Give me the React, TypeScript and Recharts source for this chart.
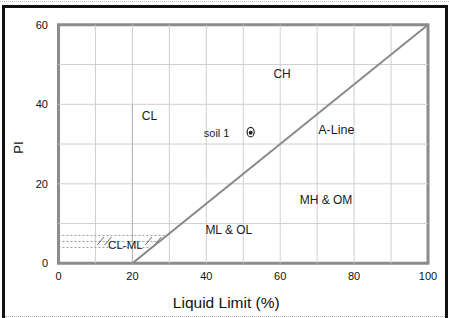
import React from 'react';
import {
  ScatterChart,
  Scatter,
  XAxis,
  YAxis,
  ReferenceLine,
  ReferenceArea,
  Label,
} from 'recharts';

// Axis ticks
const xTicks = [0, 20, 40, 60, 80, 100];
const yTicks = [0, 20, 40, 60];
// Grid lines
const gridLL = [10, 20, 30, 40, 50, 60, 70, 80, 90];
const gridPI = [10, 20, 30, 40, 50];

// A-Line (LL, PI)
const aLine = [
  { ll: 20, pi: 0 },
  { ll: 100, pi: 60 },
];

// Soil sample
const soils = [{ ll: 52, pi: 33, name: 'soil 1' }];

// Zone labels
const zoneLabels = [
  { ll: 24.6, pi: 37.1, text: 'CL', size: 12 },
  { ll: 60.5, pi: 47.6, text: 'CH', size: 12 },
  { ll: 42.8, pi: 32.8, text: 'soil 1', size: 11 },
  { ll: 75.2, pi: 33.5, text: 'A-Line', size: 12.5 },
  { ll: 72.4, pi: 16, text: 'MH & OM', size: 12 },
  { ll: 46.1, pi: 8.5, text: 'ML & OL', size: 12 },
  { ll: 18.1, pi: 4.6, text: 'CL-ML', size: 11.5 },
];

// CL-ML band boundaries (PI level, LL end)
const bandLines = [
  { pi: 7, llEnd: 29.3 },
  { pi: 5.5, llEnd: 27.3 },
  { pi: 4, llEnd: 25.3 },
];
// hatch marks in CL-ML band (LL start)
const hatchLL = [10.5, 12.5, 23.5, 26];

const FONT = '"Liberation Sans", Arial, sans-serif';

const TextShape = (props: any) => {
  const { cx, cy, payload } = props;
  return (
    <text
      x={cx}
      y={cy}
      textAnchor="middle"
      dominantBaseline="central"
      fontFamily={FONT}
      fontSize={payload.size}
      fill="#1a1a1a"
    >
      {payload.text}
    </text>
  );
};

const SoilShape = (props: any) => {
  const { cx, cy } = props;
  return (
    <g>
      <ellipse cx={cx} cy={cy} rx={3.5} ry={4.8} fill="#fff" stroke="#222" strokeWidth={1.2} />
      <circle cx={cx} cy={cy + 0.5} r={2} fill="#222" />
    </g>
  );
};

const Empty = () => <g />;

export default function App() {
  return (
    <div
      style={{
        position: 'absolute',
        left: 0,
        top: 0,
        width: 449,
        height: 318,
        background: '#fff',
        overflow: 'hidden',
      }}
    >
      {/* outer frame */}
      <div
        style={{
          position: 'absolute',
          left: 0,
          top: 1,
          width: 449,
          height: 0,
          borderTop: '1px dotted #bbb',
        }}
      />
      <div
        style={{
          position: 'absolute',
          left: 2,
          top: 5,
          width: 440,
          height: 330,
          borderLeft: '3px solid #111',
          borderTop: '3px solid #111',
          borderRight: '3px solid #111',
        }}
      />
      <div
        style={{
          position: 'absolute',
          left: 5,
          top: 316,
          width: 440,
          height: 0,
          borderTop: '1px dotted #aaa',
        }}
      />
      <div style={{ position: 'absolute', left: 0, top: 0 }}>
        <ScatterChart
          width={449}
          height={318}
          margin={{ top: 24.8, right: 21, left: 0, bottom: 24.7 }}
        >
          <XAxis
            type="number"
            dataKey="ll"
            domain={[0, 100]}
            ticks={xTicks}
            tickSize={0}
            tickMargin={9}
            axisLine={false}
            tickLine={false}
            height={30}
            tick={{ fontSize: 11, fill: '#111', fontFamily: FONT }}
            allowDataOverflow
          >
            <Label
              content={(p: any) => {
                const vb = p.viewBox;
                return (
                  <text
                    x={vb.x + vb.width / 2 - 17}
                    y={vb.y + vb.height + 14.5}
                    textAnchor="middle"
                    fontFamily={FONT}
                    fontSize={15.5}
                    fill="#111"
                  >
                    Liquid Limit (%)
                  </text>
                );
              }}
            />
          </XAxis>
          <YAxis
            type="number"
            dataKey="pi"
            domain={[0, 60]}
            ticks={yTicks}
            tickSize={0}
            tickMargin={10.5}
            axisLine={false}
            tickLine={false}
            width={58.5}
            tick={{ fontSize: 11, fill: '#111', fontFamily: FONT }}
            allowDataOverflow
          >
            <Label
              content={(p: any) => {
                const vb = p.viewBox;
                const cx = 18.5;
                const cy = vb.y + vb.height / 2 + 3.5;
                return (
                  <text
                    x={cx}
                    y={cy}
                    transform={`rotate(-90, ${cx}, ${cy})`}
                    textAnchor="middle"
                    dominantBaseline="central"
                    fontFamily={FONT}
                    fontSize={13}
                    fill="#111"
                  >
                    PI
                  </text>
                );
              }}
            />
          </YAxis>

          {gridLL.map((v) => (
            <ReferenceLine key={'gx' + v} x={v} stroke="#cfcfcf" strokeWidth={1} />
          ))}
          {gridPI.map((v) => (
            <ReferenceLine key={'gy' + v} y={v} stroke="#cfcfcf" strokeWidth={1} />
          ))}
          <ReferenceLine
            segment={[
              { x: 20, y: 0 },
              { x: 20, y: 40 },
            ]}
            stroke="#b4b4b4"
            strokeWidth={1}
          />
          {bandLines.map((b) => (
            <ReferenceLine
              key={'b' + b.pi}
              segment={[
                { x: 0, y: b.pi },
                { x: b.llEnd, y: b.pi },
              ]}
              stroke="#9a9a9a"
              strokeDasharray="2 2"
              strokeWidth={1}
            />
          ))}
          {hatchLL.map((h) => (
            <ReferenceLine
              key={'h' + h}
              segment={[
                { x: h, y: 4.6 },
                { x: h + 1.8, y: 6.6 },
              ]}
              stroke="#666"
              strokeWidth={1}
            />
          ))}

          <Scatter
            data={aLine}
            line={{ stroke: '#8a8a8a', strokeWidth: 2 }}
            shape={Empty}
            isAnimationActive={false}
          />
          <ReferenceArea
            x1={0}
            x2={100}
            y1={0}
            y2={60}
            fill="none"
            fillOpacity={0}
            stroke="#8c8c8c"
            strokeWidth={3}
            ifOverflow="visible"
          />
          <Scatter data={zoneLabels} shape={TextShape} isAnimationActive={false} />
          <Scatter data={soils} shape={SoilShape} isAnimationActive={false} />
        </ScatterChart>
      </div>
    </div>
  );
}
